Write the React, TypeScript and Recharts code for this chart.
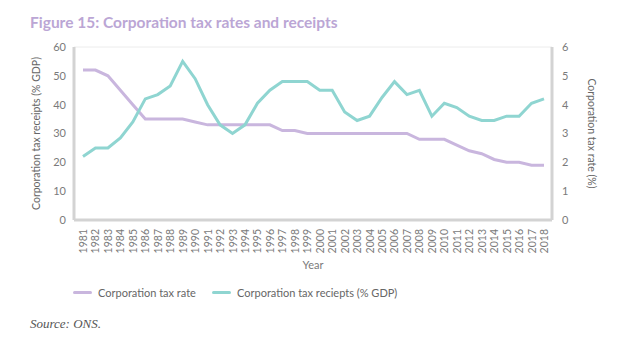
import React from "react";
import { LineChart, Line, XAxis, YAxis, CartesianGrid, Legend } from "recharts";

const years = [
  "1981","1982","1983","1984","1985","1986","1987","1988","1989","1990",
  "1991","1992","1993","1994","1995","1996","1997","1998","1999","2000",
  "2001","2002","2003","2004","2005","2006","2007","2008","2009","2010",
  "2011","2012","2013","2014","2015","2016","2017","2018",
];
const taxRate = [
  52, 52, 50, 45, 40, 35, 35, 35, 35, 34,
  33, 33, 33, 33, 33, 33, 31, 31, 30, 30,
  30, 30, 30, 30, 30, 30, 30, 28, 28, 28,
  26, 24, 23, 21, 20, 20, 19, 19,
];
const taxReceipts = [
  2.2, 2.5, 2.5, 2.85, 3.4, 4.2, 4.35, 4.65, 5.5, 4.9,
  4.0, 3.3, 3.0, 3.3, 4.05, 4.5, 4.8, 4.8, 4.8, 4.5,
  4.5, 3.75, 3.45, 3.6, 4.25, 4.8, 4.35, 4.5, 3.6, 4.05,
  3.9, 3.6, 3.45, 3.45, 3.6, 3.6, 4.05, 4.2,
];
const leftTicks = [0, 10, 20, 30, 40, 50, 60];
const rightTicks = [0, 1, 2, 3, 4, 5, 6];

const data = years.map((y, i) => ({ year: y, rate: taxRate[i], receipts: taxReceipts[i] }));

const PURPLE = "#c9b6de";
const TEAL = "#8fd5d1";
const FONT = "Lato, 'Open Sans', sans-serif";
const TICK = "#7a7a7a";

const YearTick = (props: any) => {
  const { x, y, payload } = props;
  return (
    <text
      x={x}
      y={y + 1}
      transform={`rotate(-90 ${x} ${y + 1})`}
      textAnchor="end"
      dominantBaseline="central"
      fontSize={10.5}
      fill={TICK}
      fontFamily={FONT}
    >
      {payload.value}
    </text>
  );
};

const LegendContent = () => (
  <div style={{ position: "relative", height: 20, fontFamily: FONT, fontSize: 11, color: "#666" }}>
    {[
      { label: "Corporation tax rate", color: PURPLE, x: 73 },
      { label: "Corporation tax reciepts (% GDP)", color: TEAL, x: 212 },
    ].map((it) => (
      <div key={it.label} style={{ position: "absolute", left: it.x, top: 3, display: "flex", alignItems: "center", whiteSpace: "nowrap" }}>
        <span style={{ display: "inline-block", width: 19, height: 3, borderRadius: 2, background: it.color, marginRight: 6 }} />
        <span>{it.label}</span>
      </div>
    ))}
  </div>
);

export default function App() {
  return (
    <div style={{ position: "absolute", left: 0, top: 0, width: 619, height: 352, background: "#fff", overflow: "hidden" }}>
      <div style={{ position: "absolute", left: 30, top: 13, fontFamily: FONT, fontWeight: 700, fontSize: 15.5, color: "#bba6d5", whiteSpace: "nowrap" }}>
        Figure 15: Corporation tax rates and receipts
      </div>
      <LineChart
        width={619}
        height={352}
        data={data}
        margin={{ top: 47, right: 17, left: 30, bottom: 49 }}
        style={{ position: "absolute", left: 0, top: 0 }}
      >
        <CartesianGrid vertical={false} stroke="#ececec" strokeWidth={1} />
        <XAxis
          dataKey="year"
          interval={0}
          height={63}
          tick={<YearTick />}
          tickLine={false}
          axisLine={{ stroke: "#d3d3d3", strokeWidth: 3 }}
          tickMargin={2}
          padding={{ left: 9, right: 8 }}
          label={{ value: "Year", position: "insideBottom", offset: 14, fill: TICK, fontSize: 11, fontFamily: FONT }}
        />
        <YAxis
          yAxisId="left"
          domain={[0, 60]}
          ticks={leftTicks}
          width={44}
          tickLine={false}
          axisLine={{ stroke: "#d3d3d3", strokeWidth: 3 }}
          tick={{ fill: TICK, fontSize: 11, fontFamily: FONT }}
          tickMargin={2}
          label={{ value: "Corporation tax receipts (% GDP)", angle: -90, position: "center", dx: -16, fill: "#666", fontSize: 10.5, fontFamily: FONT }}
        />
        <YAxis
          yAxisId="right"
          orientation="right"
          domain={[0, 6]}
          ticks={rightTicks}
          width={50}
          tickLine={false}
          axisLine={{ stroke: "#d3d3d3", strokeWidth: 3 }}
          tick={{ fill: TICK, fontSize: 11, fontFamily: FONT }}
          tickMargin={4}
          label={{ value: "Corporation tax rate (%)", angle: 90, position: "center", dx: 15, fill: "#666", fontSize: 10.5, fontFamily: FONT }}
        />
        <Legend verticalAlign="bottom" align="left" height={20} content={<LegendContent />} wrapperStyle={{ left: 0, width: 619 }} />
        <Line yAxisId="left" type="linear" dataKey="rate" name="Corporation tax rate" stroke={PURPLE} strokeWidth={3} dot={false} isAnimationActive={false} />
        <Line yAxisId="right" type="linear" dataKey="receipts" name="Corporation tax reciepts (% GDP)" stroke={TEAL} strokeWidth={3} dot={false} isAnimationActive={false} />
      </LineChart>
      <div style={{ position: "absolute", left: 30, top: 316, fontFamily: "'Liberation Serif', 'Times New Roman', serif", fontStyle: "italic", fontWeight: 400, fontSize: 13, color: "#555" }}>
        Source: ONS.
      </div>
    </div>
  );
}
